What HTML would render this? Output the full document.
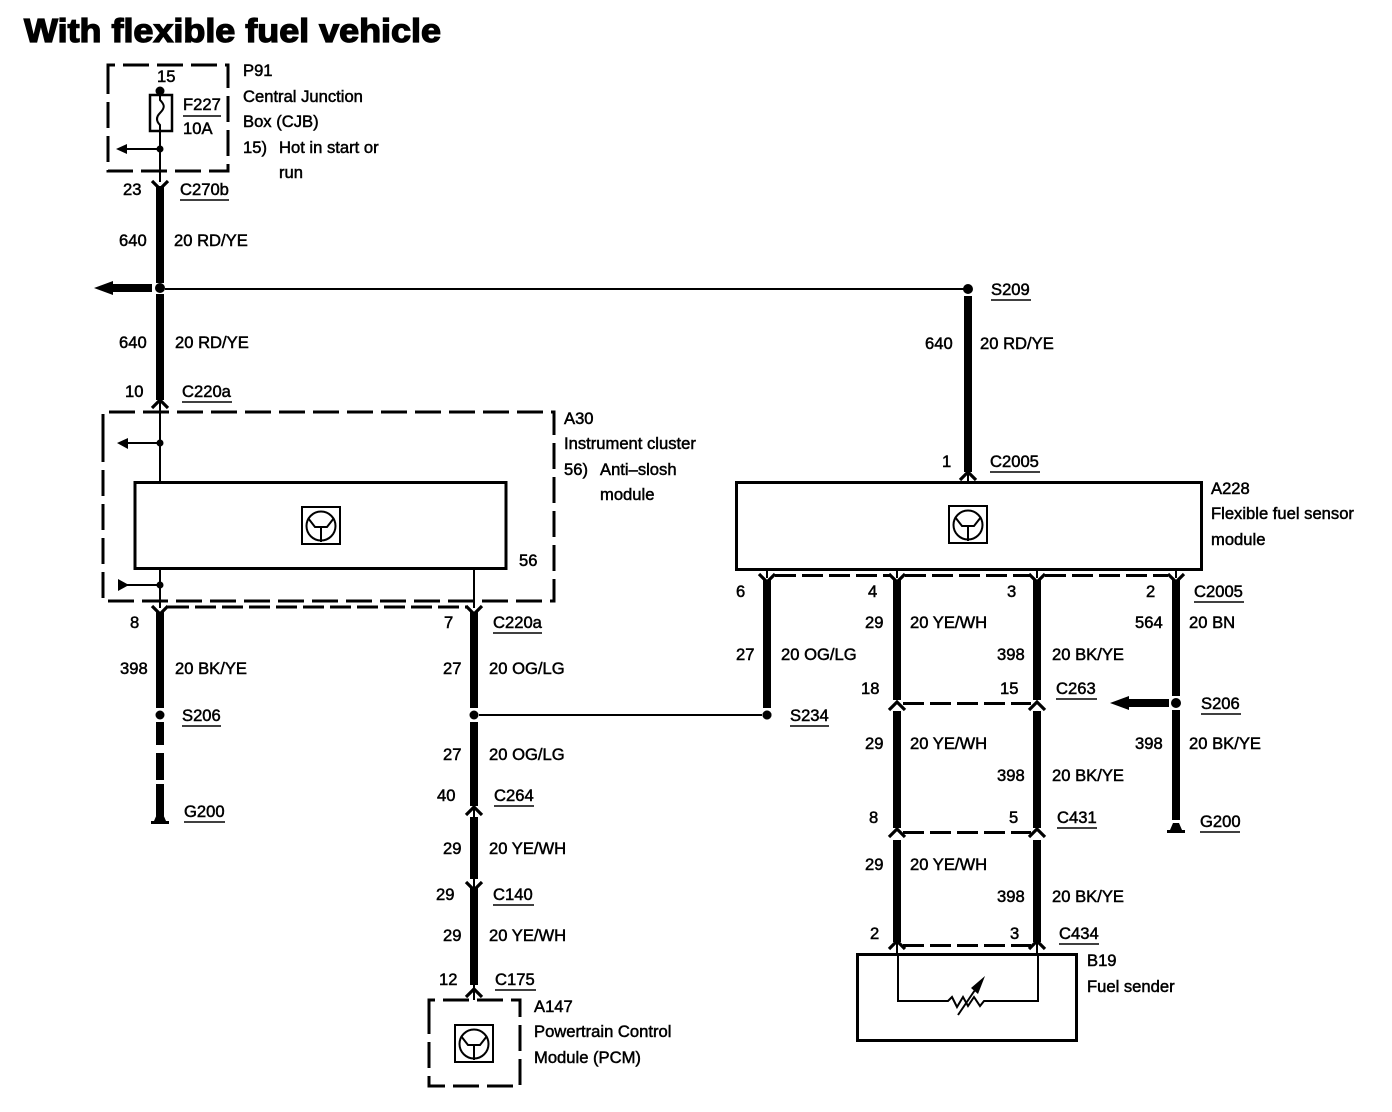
<!DOCTYPE html>
<html><head><meta charset="utf-8"><style>
html,body{margin:0;padding:0;background:#fff}
svg{display:block}
text{font-family:"Liberation Sans",sans-serif;font-size:16.6px;fill:#000;stroke:#000;stroke-width:.5}
.t{font-weight:bold;font-size:33px;stroke-width:1.3}
.w{stroke:#000;stroke-width:8;fill:none}
.n{stroke:#000;stroke-width:2;fill:none}
.d{stroke:#000;stroke-width:3;fill:none;stroke-dasharray:26 8}
.c{stroke:#000;stroke-width:3;fill:none;stroke-dasharray:21 6}
.b{stroke:#000;stroke-width:3;fill:none}
.u{stroke:#000;stroke-width:1.5}
</style></head><body>
<svg width="1392" height="1112" viewBox="0 0 1392 1112" xmlns="http://www.w3.org/2000/svg">
<defs>
<g id="ic"><rect x="1" y="1" width="38" height="37" fill="none" stroke="#000" stroke-width="2"/><circle cx="20" cy="20" r="14.5" fill="none" stroke="#000" stroke-width="2"/><path d="M7 12 L14 21 H26 L33 12 M20 21 V36" fill="none" stroke="#000" stroke-width="2"/></g>
<path id="dn" d="M-8 -4 L0 4 L8 -4" fill="none" stroke="#000" stroke-width="3.2"/>
<path id="up" d="M-8 4 L0 -4 L8 4" fill="none" stroke="#000" stroke-width="3.2"/>
<g id="gnd"><path d="M-9 0 H9 V-3 H6 L3 -10 H-3 L-6 -3 H-9Z" fill="#000"/></g>
</defs>
<rect width="1392" height="1112" fill="#fff"/>
<text class="t" x="24" y="42" textLength="417" lengthAdjust="spacingAndGlyphs">With flexible fuel vehicle</text>

<!-- P91 -->
<path class="d" d="M108 84 V65 H228 V171 H108 V84" stroke-dasharray="24 9"/>
<circle cx="160" cy="91" r="4.5" fill="#000"/>
<rect x="150" y="95" width="22" height="36" fill="none" stroke="#000" stroke-width="2.5"/>
<path class="n" d="M160 91 V100 C165 105 165 108 160 113 C155 118 157 122 160 125 V182"/>
<circle cx="160" cy="149" r="3.5" fill="#000"/>
<path class="n" d="M160 149 H125"/><path d="M116 149 L127 144 V154Z" fill="#000"/>
<line class="u" x1="183" y1="116" x2="221" y2="116"/>
<text x="157" y="82">15</text><text x="183" y="110">F227</text><text x="183" y="134">10A</text>
<text x="243" y="76">P91</text><text x="243" y="102">Central Junction</text><text x="243" y="127">Box (CJB)</text>
<text x="243" y="153">15)</text><text x="279" y="153">Hot in start or</text><text x="279" y="178">run</text>

<!-- left main -->
<use href="#dn" x="160" y="185"/>
<path class="w" d="M160 186 V283 M160 294 V400"/>
<use href="#up" x="160" y="404"/>
<path class="n" d="M160 400 V482"/>
<circle cx="160" cy="288" r="5" fill="#000"/>
<path class="w" d="M112 288 H152" stroke-width="7"/><path d="M94 288 L113 281 V295Z" fill="#000"/>
<path class="n" d="M165 289 H968"/>
<circle cx="968" cy="289" r="5" fill="#000"/>
<path class="w" d="M968 296 V472"/><use href="#up" x="968" y="476"/><path class="n" d="M968 472 V482"/>

<text x="123" y="195">23</text><text x="180" y="195">C270b</text><line class="u" x1="180" y1="200" x2="229" y2="200"/>
<text x="119" y="246">640</text><text x="174" y="246">20 RD/YE</text>
<text x="119" y="348">640</text><text x="175" y="348">20 RD/YE</text>
<text x="125" y="397">10</text><text x="182" y="397">C220a</text><line class="u" x1="182" y1="402" x2="232" y2="402"/>
<text x="991" y="295">S209</text><line class="u" x1="991" y1="300" x2="1031" y2="300"/>
<text x="925" y="349">640</text><text x="980" y="349">20 RD/YE</text>
<text x="942" y="467">1</text><text x="990" y="467">C2005</text><line class="u" x1="990" y1="472" x2="1040" y2="472"/>

<!-- A30 -->
<path class="d" d="M103 440 V412 H554 V601 H103 V440"/>
<circle cx="160" cy="443" r="3.5" fill="#000"/>
<path class="n" d="M160 443 H125"/><path d="M117 443 L128 438 V449Z" fill="#000"/>
<rect class="b" x="135" y="482.500" width="371" height="86"/>
<use href="#ic" x="301" y="506"/>
<path class="n" d="M160 568 V608 M474 568 V608"/>
<circle cx="160" cy="585" r="3.5" fill="#000"/>
<path class="n" d="M160 585 H124"/><path d="M118 579 L129 585 L118 591Z" fill="#000"/>
<path class="c" d="M168 607 H467"/>
<use href="#dn" x="160" y="610"/><use href="#dn" x="474" y="610"/>
<text x="564" y="424">A30</text><text x="564" y="449">Instrument cluster</text><text x="564" y="475">56)</text><text x="600" y="475">Anti&#8211;slosh</text><text x="600" y="500">module</text>
<text x="519" y="566">56</text>

<!-- left bottom -->
<path class="w" d="M160 612 V708 M160 722 V745 M160 753 V780 M160 784 V816"/>
<circle cx="160" cy="715" r="4.500" fill="#000"/>
<use href="#gnd" x="160" y="824"/>
<text x="130" y="628">8</text><text x="120" y="674">398</text><text x="175" y="674">20 BK/YE</text>
<text x="182" y="721">S206</text><line class="u" x1="182" y1="726" x2="221" y2="726"/>
<text x="184" y="817">G200</text><line class="u" x1="184" y1="822" x2="225" y2="822"/>

<!-- centre wire -->
<path class="w" d="M474 612 V708 M474 722 V806 M474 817 V879 M474 888 V985"/>
<path class="n" d="M474 806 V817 M474 879 V888"/>
<circle cx="474" cy="715" r="4.500" fill="#000"/>
<use href="#up" x="474" y="811"/>
<use href="#dn" x="474" y="886"/>
<use href="#up" x="474" y="993"/>
<path class="n" d="M474 985 V1000"/>
<path class="n" d="M479 715 H762"/>
<circle cx="767" cy="715" r="4.500" fill="#000"/>
<text x="444" y="628">7</text><text x="493" y="628">C220a</text><line class="u" x1="493" y1="633" x2="542" y2="633"/>
<text x="443" y="674">27</text><text x="489" y="674">20 OG/LG</text>
<text x="443" y="760">27</text><text x="489" y="760">20 OG/LG</text>
<text x="437" y="801">40</text><text x="494" y="801">C264</text><line class="u" x1="494" y1="806" x2="534" y2="806"/>
<text x="443" y="854">29</text><text x="489" y="854">20 YE/WH</text>
<text x="436" y="900">29</text><text x="493" y="900">C140</text><line class="u" x1="493" y1="905" x2="534" y2="905"/>
<text x="443" y="941">29</text><text x="489" y="941">20 YE/WH</text>
<text x="439" y="985">12</text><text x="495" y="985">C175</text><line class="u" x1="495" y1="990" x2="536" y2="990"/>

<!-- A147 -->
<path class="d" d="M429 1020 V1000 H520 V1086 H429 V1020" stroke-dasharray="20 8"/>
<use href="#ic" x="454" y="1024"/>
<text x="534" y="1012">A147</text><text x="534" y="1037">Powertrain Control</text><text x="534" y="1063">Module (PCM)</text>

<!-- A228 -->
<rect class="b" x="736.500" y="482.500" width="465" height="87"/>
<use href="#ic" x="948" y="505"/>
<text x="1211" y="494">A228</text><text x="1211" y="519">Flexible fuel sensor</text><text x="1211" y="545">module</text>
<path class="n" d="M767 569 V578 M897 569 V578 M1037 569 V578 M1176 569 V578"/>
<path class="c" d="M775 575.500 H890 M905 575.500 H1030 M1045 575.500 H1168"/>
<use href="#dn" x="767" y="578"/><use href="#dn" x="897" y="578"/><use href="#dn" x="1037" y="578"/><use href="#dn" x="1176" y="578"/>
<path class="w" d="M767 580 V708 M897 580 V700 M897 711 V828 M897 840 V942 M1037 580 V700 M1037 711 V828 M1037 840 V942 M1176 580 V696 M1176 710 V820"/>
<circle cx="767" cy="715" r="4.500" fill="#000"/>
<circle cx="1176" cy="703" r="5" fill="#000"/>
<path class="w" d="M1128 703 H1169" stroke-width="7"/><path d="M1110 703 L1129 696 V710Z" fill="#000"/>
<use href="#gnd" x="1176" y="833"/>
<use href="#up" x="897" y="706"/><use href="#up" x="1037" y="706"/><use href="#up" x="897" y="833"/><use href="#up" x="1037" y="833"/><use href="#up" x="897" y="945"/><use href="#up" x="1037" y="945"/>
<path class="c" d="M903 703.500 H1031 M903 832.500 H1031 M903 945.500 H1031"/>
<path class="n" d="M897 941 V954 M1037 941 V954"/>

<text x="736" y="597">6</text><text x="868" y="597">4</text><text x="1007" y="597">3</text><text x="1146" y="597">2</text>
<text x="1194" y="597">C2005</text><line class="u" x1="1194" y1="602" x2="1244" y2="602"/>
<text x="865" y="628">29</text><text x="910" y="628">20 YE/WH</text>
<text x="1135" y="628">564</text><text x="1189" y="628">20 BN</text>
<text x="736" y="660">27</text><text x="781" y="660">20 OG/LG</text>
<text x="997" y="660">398</text><text x="1052" y="660">20 BK/YE</text>
<text x="861" y="694">18</text><text x="1000" y="694">15</text>
<text x="1056" y="694">C263</text><line class="u" x1="1056" y1="699" x2="1097" y2="699"/>
<text x="1201" y="709">S206</text><line class="u" x1="1201" y1="714" x2="1241" y2="714"/>
<text x="790" y="721">S234</text><line class="u" x1="790" y1="726" x2="829" y2="726"/>
<text x="865" y="749">29</text><text x="910" y="749">20 YE/WH</text>
<text x="1135" y="749">398</text><text x="1189" y="749">20 BK/YE</text>
<text x="997" y="781">398</text><text x="1052" y="781">20 BK/YE</text>
<text x="869" y="823">8</text><text x="1009" y="823">5</text>
<text x="1057" y="823">C431</text><line class="u" x1="1057" y1="828" x2="1097" y2="828"/>
<text x="1200" y="827">G200</text><line class="u" x1="1200" y1="832" x2="1240" y2="832"/>
<text x="865" y="870">29</text><text x="910" y="870">20 YE/WH</text>
<text x="997" y="902">398</text><text x="1052" y="902">20 BK/YE</text>
<text x="870" y="939">2</text><text x="1010" y="939">3</text>
<text x="1059" y="939">C434</text><line class="u" x1="1059" y1="944" x2="1099" y2="944"/>

<!-- B19 -->
<rect class="b" x="857.500" y="954.500" width="219" height="86"/>
<path class="n" d="M898 954 V1001 H948 L952 997 L957 1007 L963 997 L968 1006 L974 997 L980 1006 L984 1001 H1038 V954"/>
<path class="n" d="M958 1015 L975 990"/><path d="M985 976 L971 988 L978 994Z" fill="#000"/>
<text x="1087" y="966">B19</text><text x="1087" y="992">Fuel sender</text>
</svg>
</body></html>
